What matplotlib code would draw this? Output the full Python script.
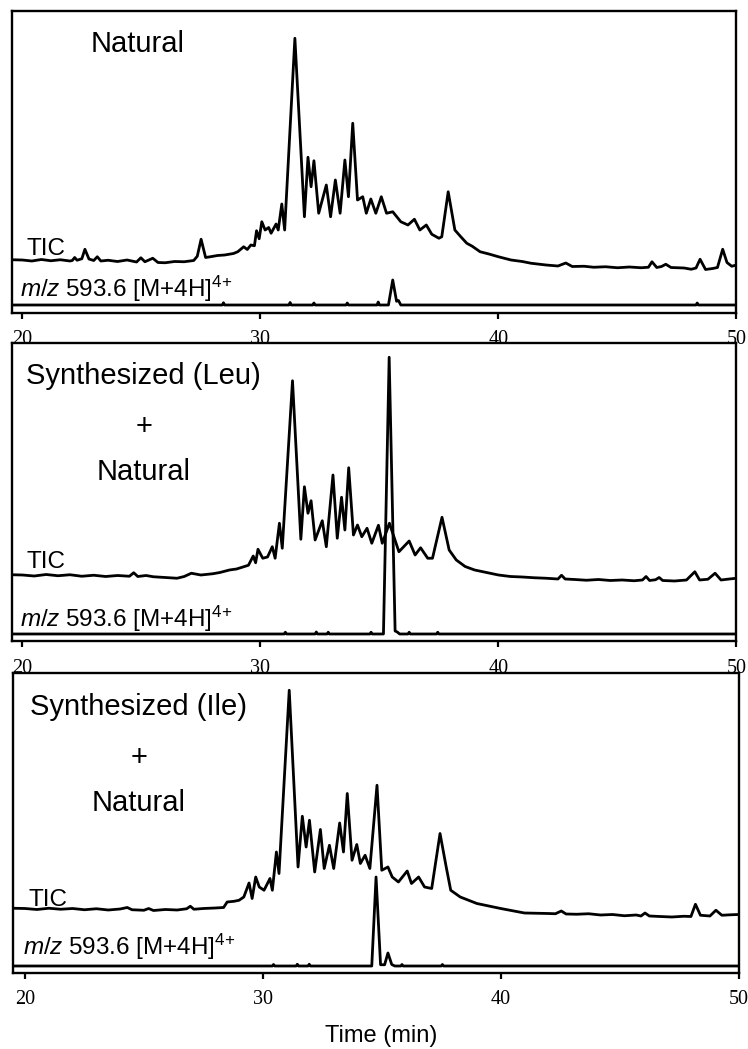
import matplotlib
matplotlib.use("Agg")
import matplotlib.pyplot as plt

plt.rcParams["font.family"] = ["Liberation Sans", "DejaVu Sans"]
plt.rcParams["mathtext.fontset"] = "custom"
plt.rcParams["mathtext.rm"] = "Liberation Sans"
plt.rcParams["mathtext.it"] = "Liberation Sans:italic"

# ---- panel 1: Natural ----
tic1_x = [19.55, 20.0, 20.4, 20.8, 21.2, 21.6, 22.0, 22.1, 22.2, 22.3, 22.5, 22.63, 22.8, 23.0, 23.15, 23.3,
          23.6, 24.0, 24.4, 24.8, 24.98, 25.15, 25.48, 25.7, 26.0, 26.4, 26.8, 27.2, 27.35, 27.51, 27.7,
          27.9, 28.2, 28.5, 28.87, 29.05, 29.3, 29.45, 29.6, 29.75, 29.84, 29.95, 30.06, 30.2, 30.35,
          30.45, 30.66, 30.75, 30.9, 31.02, 31.45, 31.85, 32.0, 32.13, 32.25, 32.45, 32.77, 32.95,
          33.15, 33.35, 33.55, 33.7, 33.88, 34.08, 34.3, 34.45, 34.64, 34.85, 35.08, 35.3, 35.56,
          35.9, 36.2, 36.47, 36.7, 36.97, 37.2, 37.5, 37.62, 37.89, 38.17, 38.4, 38.67, 38.9,
          39.23, 39.6, 40.0, 40.53, 41.0, 41.37, 42.0, 42.5, 42.83, 43.1, 43.6, 44.0, 44.5, 45.0,
          45.5, 46.0, 46.3, 46.45, 46.65, 46.85, 47.03, 47.25, 47.8, 48.1, 48.3, 48.47, 48.7, 49.0,
          49.2, 49.42, 49.6, 49.8, 50.0]
tic1_y = [18.1, 18.0, 17.6, 18.2, 17.7, 18.1, 17.6, 17.8, 19.0, 17.9, 18.5, 22.3, 18.4, 17.8, 19.3, 17.6,
          17.9, 17.4, 18.0, 17.2, 18.9, 17.3, 18.7, 17.0, 16.9, 17.4, 17.3, 17.8, 19.5, 26.3, 19.0,
          19.3, 19.8, 20.0, 20.6, 21.3, 23.3, 22.2, 24.0, 23.7, 29.7, 26.5, 33.3, 30.0, 31.0,
          28.7, 32.4, 30.0, 40.4, 30.0, 106.7, 35.3, 59.1, 47.3, 57.7, 36.7, 48.0, 35.3,
          50.0, 36.7, 58.0, 43.3, 72.7, 42.0, 43.3, 36.7, 42.4, 36.7, 43.3, 36.7, 37.3,
          33.3, 32.0, 34.3, 30.0, 32.0, 28.3, 26.7, 27.3, 45.3, 30.0, 27.5, 24.7, 23.5,
          21.3, 20.4, 19.3, 18.0, 17.4, 16.7, 16.0, 15.6, 16.8, 15.4, 15.5, 15.1, 15.3, 14.9,
          15.2, 14.9, 15.1, 17.3, 15.0, 15.4, 16.3, 15.0, 14.8, 14.3, 14.8, 18.3, 14.2, 14.6,
          15.0, 22.3, 17.0, 15.5, 16.0]
mz1_x = [19.5, 28.4, 28.45, 28.5, 31.2, 31.25, 31.3, 32.2, 32.25, 32.3, 33.6, 33.65, 33.7,
         34.9, 34.95, 35.0, 35.38, 35.56, 35.72, 35.8, 35.9, 48.3, 48.35, 48.4, 50.0]
mz1_y = [0, 0, 0.9, 0, 0, 1.0, 0, 0, 0.8, 0, 0, 0.8, 0,
         0, 1.2, 0, 0, 10.0, 1.5, 1.8, 0, 0, 0.8, 0, 0]

# ---- panel 2: Synthesized (Leu) + Natural ----
tic2_x = [19.55, 20.0, 20.5, 21.0, 21.5, 22.0, 22.5, 23.0, 23.5, 24.0, 24.5, 24.68, 24.85, 25.2, 25.5,
          26.0, 26.5, 26.8, 27.1, 27.5, 28.0, 28.3, 28.7, 29.0, 29.3, 29.5, 29.7, 29.8, 29.9,
          30.1, 30.3, 30.5, 30.62, 30.8, 30.92, 31.35, 31.7, 31.85, 32.0, 32.13, 32.3, 32.6,
          32.77, 33.05, 33.23, 33.41, 33.55, 33.71, 33.91, 34.08, 34.26, 34.48, 34.68, 34.96,
          35.12, 35.42, 35.82, 36.25, 36.5, 36.73, 37.03, 37.23, 37.63, 37.93, 38.23, 38.6,
          39.0, 39.5, 40.0, 40.5, 41.0, 41.5, 42.0, 42.5, 42.65, 42.8, 43.2, 43.7, 44.2, 44.7,
          45.2, 45.7, 46.05, 46.2, 46.35, 46.6, 46.75, 46.9, 47.4, 47.9, 48.25, 48.45, 48.8,
          49.1, 49.35, 49.7, 50.0]
tic2_y = [23.7, 23.6, 23.2, 23.8, 23.3, 23.7, 23.1, 23.5, 23.0, 23.4, 23.1, 24.5, 23.0, 23.4, 22.9,
          22.6, 22.3, 23.0, 24.3, 23.6, 24.1, 24.6, 25.6, 26.0, 26.9, 27.5, 31.2, 28.5, 33.9,
          30.3, 30.8, 34.9, 30.3, 44.3, 34.3, 101.3, 37.9, 58.9, 48.3, 53.3, 37.6, 45.3,
          34.9, 63.6, 38.3, 54.7, 41.6, 66.5, 39.6, 43.6, 38.9, 42.3, 36.3, 43.5,
          36.3, 44.3, 32.9, 37.2, 31.6, 34.5, 30.3, 30.3, 46.7, 33.6, 29.6, 27.0,
          25.6, 24.6, 23.6, 23.0, 22.8, 22.5, 22.3, 22.0, 23.5, 22.0, 21.8, 21.5, 21.8, 21.4,
          21.6, 21.3, 21.6, 23.0, 21.4, 21.7, 22.6, 21.4, 21.2, 21.6, 24.9, 21.6, 21.9,
          24.3, 21.6, 22.0, 22.3]
mz2_x = [19.5, 31.0, 31.05, 31.1, 32.3, 32.35, 32.4, 32.8, 32.85, 32.9, 34.6, 34.65, 34.7,
         35.17, 35.41, 35.66, 35.75, 35.85, 36.2, 36.25, 36.3, 37.4, 37.45, 37.5, 50.0]
mz2_y = [0, 0, 0.7, 0, 0, 0.8, 0, 0, 0.7, 0, 0, 0.7, 0,
         0, 110.7, 1.2, 0.8, 0, 0, 0.7, 0, 0, 0.7, 0, 0]

# ---- panel 3: Synthesized (Ile) + Natural ----
tic3_x = [19.5, 20.0, 20.5, 21.0, 21.5, 22.0, 22.5, 23.0, 23.5, 24.0, 24.3, 24.5, 25.0, 25.2, 25.4,
          25.9, 26.4, 26.8, 26.95, 27.1, 27.5, 28.0, 28.35, 28.5, 28.8, 29.0, 29.2, 29.42, 29.55,
          29.7, 29.85, 30.05, 30.3, 30.4, 30.57, 30.68, 31.11, 31.48, 31.66, 31.82, 31.96, 32.18,
          32.42, 32.58, 32.8, 32.98, 33.23, 33.39, 33.55, 33.75, 33.95, 34.1, 34.3, 34.5, 34.8,
          35.0, 35.26, 35.44, 35.7, 36.07, 36.25, 36.55, 36.8, 37.1, 37.45, 37.71, 37.9, 38.3,
          39.0, 40.0, 41.0, 42.0, 42.3, 42.55, 42.75, 43.2, 43.7, 44.2, 44.7, 45.2, 45.7, 45.9,
          46.07, 46.25, 46.7, 47.2, 47.7, 48.0, 48.19, 48.4, 48.8, 49.05, 49.3, 49.7, 50.0]
tic3_y = [23.1, 23.0, 22.6, 23.1, 22.7, 23.0, 22.5, 22.9, 22.4, 22.8, 23.4, 22.5, 22.3, 23.0, 22.2,
          22.6, 22.4, 22.9, 23.9, 22.7, 23.0, 23.2, 23.4, 25.6, 25.9, 26.3, 27.6, 33.2, 27.0,
          35.6, 31.6, 30.3, 35.0, 30.3, 45.6, 37.0, 110.3, 39.6, 59.9, 47.6, 58.3, 37.6,
          54.6, 39.0, 48.3, 39.0, 57.2, 45.6, 69.0, 42.3, 48.6, 41.0, 44.3, 39.0, 72.3,
          38.3, 39.6, 35.6, 33.6, 38.0, 33.0, 35.6, 31.6, 31.0, 53.0, 39.6, 30.3, 27.6,
          25.0, 23.0, 21.2, 21.0, 20.9, 22.0, 20.8, 20.7, 20.9, 20.4, 20.6, 20.1, 20.4, 20.0,
          21.2, 20.0, 19.8, 19.6, 19.9, 19.8, 24.7, 20.3, 20.0, 22.3, 20.3, 20.5, 20.6]
mz3_x = [19.4, 30.4, 30.45, 30.5, 31.4, 31.45, 31.5, 31.9, 31.95, 32.0, 34.58, 34.76, 34.95,
         35.12, 35.26, 35.42, 35.55, 35.8, 35.85, 35.9, 37.5, 37.55, 37.6, 50.0]
mz3_y = [0, 0, 0.6, 0, 0, 0.7, 0, 0, 0.7, 0, 0, 35.6, 0.5,
         0.5, 5.2, 0.6, 0, 0, 0.6, 0, 0, 0.6, 0, 0]

titles = [["Natural"], ["Synthesized (Leu)", "+", "Natural"], ["Synthesized (Ile)", "+", "Natural"]]
title_y = [[101.1], [100.0, 79.7, 61.6], [100.3, 80.1, 62.0]]
title_x = [24.83, 25.1, 24.78]
tic_label_y = [20.0, 26.5, 23.9]
mz_label_y = [3.3, 2.7, 4.6]
mz_label = r"$m/z$ 593.6 [M+4H]$^{4{+}}$"

# axes boxes: left, bottom, width, height (figure fraction)
boxes = [[0.01604, 0.70162, 0.96858, 0.28789],
         [0.01604, 0.38847, 0.96858, 0.28455],
         [0.01738, 0.07245, 0.96992, 0.28599]]
xlims = [(19.567, 50), (19.567, 50), (19.495, 50)]
ylims = [(-3.2, 117.6), (-3.0, 116.4), (-2.8, 117.2)]

tics = [(tic1_x, tic1_y), (tic2_x, tic2_y), (tic3_x, tic3_y)]
mzs = [(mz1_x, mz1_y), (mz2_x, mz2_y), (mz3_x, mz3_y)]

fig = plt.figure(figsize=(7.48, 10.49), dpi=100)

for i in range(3):
    ax = fig.add_axes(boxes[i])
    ax.plot(tics[i][0], tics[i][1], color="black", lw=2.0, solid_joinstyle="round")
    ax.plot(mzs[i][0], mzs[i][1], color="black", lw=2.0, solid_joinstyle="round")
    ax.set_xlim(*xlims[i])
    ax.set_ylim(*ylims[i])
    ax.set_yticks([])
    ax.set_xticks([20, 30, 40, 50])
    ax.tick_params(axis="x", direction="out", length=4.5, width=1.6, pad=8)
    for lab in ax.get_xticklabels():
        lab.set_fontfamily("Liberation Serif")
        lab.set_fontsize(14.5)
    for s in ax.spines.values():
        s.set_linewidth(1.7)
    for t, ty in zip(titles[i], title_y[i]):
        ax.text(title_x[i], ty, t, fontsize=21, ha="center", va="baseline")
    ax.text(20.16, tic_label_y[i], "TIC", fontsize=17.5, ha="left", va="baseline")
    ax.text(19.9, mz_label_y[i], mz_label, fontsize=17.5, ha="left", va="baseline")

fig.text(0.509, 1 - 1036 / 1049, "Time (min)", fontsize=17, ha="center", va="center")

fig.savefig("out.png", dpi=100)
